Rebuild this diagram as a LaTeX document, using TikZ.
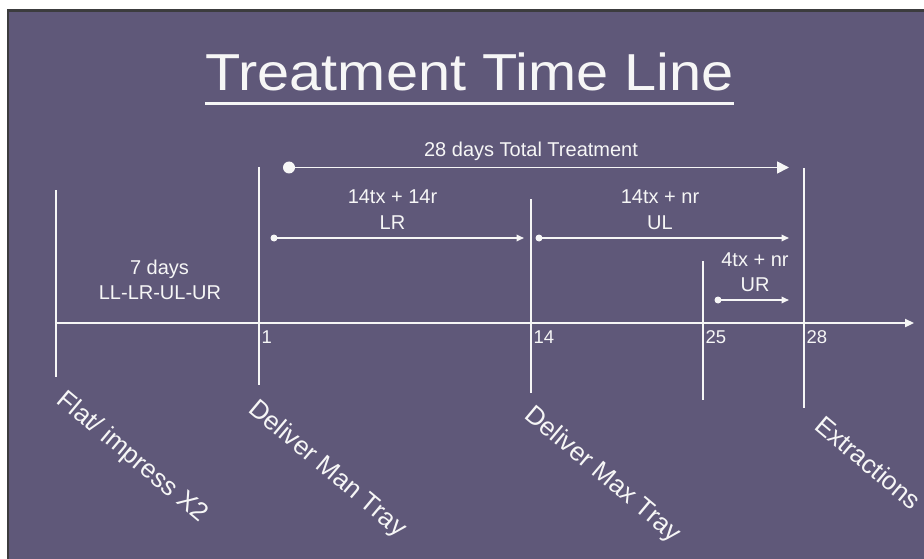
\documentclass[tikz,border=0pt]{standalone}
\usepackage{fontspec}
\setmainfont{Liberation Sans}
\usetikzlibrary{arrows.meta}
\definecolor{slate}{RGB}{95,88,121}
\definecolor{ink}{RGB}{246,246,246}
\definecolor{frame}{RGB}{60,60,62}
\begin{document}
\begin{tikzpicture}[x=1pt,y=-1pt,
  lbl/.style={text=ink, font=\fontsize{20}{22}\selectfont, inner sep=0pt, anchor=base},
  ticklbl/.style={text=ink, font=\fontsize{18.5}{20}\selectfont, inner sep=0pt, anchor=base west},
  event/.style={text=ink, font=\fontsize{26}{28}\selectfont, inner sep=0pt, anchor=base west, rotate=-40},
  marker/.style={draw=ink, line width=2.7pt},
  axisline/.style={draw=ink, line width=2.3pt, -{Triangle[length=9pt,width=8pt]}},
  span/.style={draw=ink, line width=1.7pt, -{Triangle[length=7.5pt,width=6.5pt]}},
  bigspan/.style={draw=ink, line width=1.8pt, -{Triangle[length=12pt,width=12pt]}},
  dot/.style={fill=ink}]
  % page and slide background
  \fill[white] (0,0) rectangle (924,559);
  \fill[frame] (6.5,9.5) rectangle (924,559);
  \fill[slate] (8.5,12) rectangle (924,559);
  \useasboundingbox (0,0) rectangle (924,559);

  % heading
  \node[text=ink, font=\fontsize{52}{60}\selectfont, anchor=base, inner sep=0pt]
    (title) at (469.5,91) {\scalebox{1.11}[1]{Treatment Time Line}};
  \coordinate (ul) at (0,103.5);
  \draw[ink, line width=3pt] (title.west |- ul) -- (title.east |- ul);

  % time axis
  \coordinate (ax0) at (56,323);
  \coordinate (ax1) at (914,323);
  \draw[axisline] (ax0) -- (ax1);

  % day markers
  \coordinate (m0t) at (56,190);   \coordinate (m0b) at (56,377);
  \coordinate (m1t) at (259,167);  \coordinate (m1b) at (259,385);
  \coordinate (m2t) at (531,199);  \coordinate (m2b) at (531,393);
  \coordinate (m3t) at (703,261);  \coordinate (m3b) at (703,400);
  \coordinate (m4t) at (804,168);  \coordinate (m4b) at (804,408);
  \foreach \m in {0,...,4} \draw[marker] (m\m t) -- (m\m b);

  % day numbers
  \node[ticklbl] (d1)  at (261.5,343) {1};
  \node[ticklbl] (d14) at (533.5,343) {14};
  \node[ticklbl] (d25) at (705.5,343) {25};
  \node[ticklbl] (d28) at (806.5,343) {28};

  % treatment spans
  \coordinate (tot0) at (289,167.5); \coordinate (tot1) at (789,167.5);
  \fill[dot] (tot0) circle (6);
  \draw[bigspan] (tot0) -- (tot1);

  \coordinate (lr0) at (274,238);  \coordinate (lr1) at (524,238);
  \fill[dot] (lr0) circle (3.5);
  \draw[span] (lr0) -- (lr1);

  \coordinate (ulA) at (539,238);  \coordinate (ulB) at (789,238);
  \fill[dot] (ulA) circle (3.5);
  \draw[span] (ulA) -- (ulB);

  \coordinate (ur0) at (718,300);  \coordinate (ur1) at (789,300);
  \fill[dot] (ur0) circle (3.5);
  \draw[span] (ur0) -- (ur1);

  % span captions
  \node[lbl] (tottxt) at (531,157) {28 days Total Treatment};
  \node[lbl] (lrA) at (392.5,204) {14tx + 14r};
  \node[lbl] (lrB) at (392.5,229) {LR};
  \node[lbl] (ulT) at (660,204) {14tx + nr};
  \node[lbl] (ulL) at (660,229) {UL};
  \node[lbl] (urA) at (755,266.5) {4tx + nr};
  \node[lbl] (urB) at (755,291.5) {UR};
  \node[lbl] (sevA) at (159.5,274) {7 days};
  \node[lbl] (sevB) at (160,299) {LL-LR-UL-UR};

  % events below the markers
  \node[event] (e0) at (55.5,402) {Flat/ impress X2};
  \node[event] (e1) at (247,411) {Deliver Man Tray};
  \node[event] (e2) at (523,417) {Deliver Max Tray};
  \node[event] (e3) at (813,428) {Extractions};
\end{tikzpicture}
\end{document}
